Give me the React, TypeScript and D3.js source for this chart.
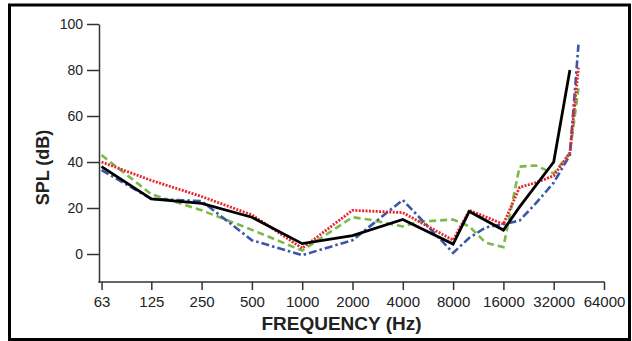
import React, { useEffect, useRef } from "react";
import * as d3 from "d3";

const tickFreqs = [63, 125, 250, 500, 1000, 2000, 4000, 8000, 16000, 32000, 64000];
const tickLabels = ["63", "125", "250", "500", "1000", "2000", "4000", "8000", "16000", "32000", "64000"];
const yTicks = [0, 20, 40, 60, 80, 100];

const greenFreq = [63, 125, 250, 500, 1000, 2000, 2500, 4000, 5000, 8000, 10000, 12500, 16000, 20000, 25000, 32000, 40000, 45000];
const greenSpl = [43, 26, 19, 10.5, 1.5, 16, 15, 12, 14, 15, 12, 5, 3, 38, 38.5, 35, 44, 72];

const blueFreq = [63, 125, 250, 500, 1000, 2000, 4000, 8000, 10000, 12500, 16000, 20000, 25000, 32000, 40000, 45000];
const blueSpl = [36.5, 24, 23, 6, -0.5, 6, 23.5, 0.5, 7, 11.5, 13, 14.5, 22, 31, 43, 91];

const redFreq = [63, 125, 250, 500, 1000, 2000, 4000, 8000, 10000, 16000, 20000, 25000, 32000, 40000, 45000];
const redSpl = [40, 32, 25, 17, 2.5, 19, 18, 6, 19, 13, 29, 31, 34, 44, 81];

const blackFreq = [63, 125, 250, 500, 1000, 2000, 4000, 8000, 10000, 16000, 20000, 32000, 40000];
const blackSpl = [38, 24, 22, 16, 4.5, 8, 15, 4.3, 18.5, 10.4, 20.5, 40, 80];

const W = 632;
const H = 341;
const FONT = "'Liberation Sans', Arial, Helvetica, sans-serif";

export default function App() {
  const ref = useRef<SVGSVGElement | null>(null);

  useEffect(() => {
    const svg = d3.select(ref.current);
    svg.selectAll("*").remove();

    const x = d3.scaleLog().domain([62.5, 64000]).range([101, 604]);
    const y = d3.scaleLinear().domain([-12.17, 100]).range([282, 24]);

    svg.append("rect").attr("x", 0).attr("y", 0).attr("width", W).attr("height", H).attr("fill", "#fff");

    // border
    svg.append("rect")
      .attr("x", 9.5).attr("y", 5).attr("width", 620).attr("height", 334.5)
      .attr("fill", "none").attr("stroke", "#000").attr("stroke-width", 3);

    // y axis
    const yAxis = d3.axisLeft(y).tickValues(yTicks).tickSize(12).tickPadding(4).tickSizeOuter(0);
    const gy = svg.append("g").attr("transform", "translate(99,0)").call(yAxis);
    gy.select(".domain").attr("stroke", "#333").attr("stroke-width", 1.5);
    gy.selectAll(".tick line").attr("stroke", "#333").attr("stroke-width", 1.5);
    gy.selectAll(".tick text").attr("fill", "#222").style("font-family", FONT).style("font-size", "14px");

    // x axis
    const xAxis = d3.axisBottom(x).tickValues(tickFreqs)
      .tickFormat((_d, i) => tickLabels[i]).tickSize(8).tickPadding(6).tickSizeOuter(0);
    const gx = svg.append("g").attr("transform", "translate(0,282)").call(xAxis);
    gx.select(".domain").remove();
    gx.append("line").attr("x1", 98.25).attr("x2", 604.75).attr("y1", 0).attr("y2", 0)
      .attr("stroke", "#333").attr("stroke-width", 1.5);
    gx.selectAll(".tick line").attr("stroke", "#333").attr("stroke-width", 1.5);
    gx.selectAll(".tick text").attr("fill", "#222").style("font-family", FONT).style("font-size", "15px");

    // titles
    svg.append("text")
      .attr("transform", "translate(49,167.5) rotate(-90)")
      .attr("text-anchor", "middle")
      .style("font-family", FONT).style("font-size", "18px").style("font-weight", "bold")
      .attr("fill", "#222")
      .text("SPL (dB)");
    svg.append("text")
      .attr("x", 341.5).attr("y", 330)
      .attr("text-anchor", "middle")
      .style("font-family", FONT).style("font-size", "19px").style("font-weight", "bold")
      .attr("fill", "#222")
      .text("FREQUENCY (Hz)");

    const line = d3.line<[number, number]>().x((d) => x(d[0])).y((d) => y(d[1]));

    const series = [
      { f: greenFreq, v: greenSpl, color: "#7cb84a", dash: "7,4", width: 2.6 },
      { f: blueFreq, v: blueSpl, color: "#3957a8", dash: "8,3,2.5,3", width: 2.6 },
      { f: redFreq, v: redSpl, color: "#e8262c", dash: "2,1.4", width: 2.8 },
      { f: blackFreq, v: blackSpl, color: "#000", dash: null as string | null, width: 2.8 },
    ];
    series.forEach((s) => {
      const pts = s.f.map((f, i) => [f, s.v[i]] as [number, number]);
      const p = svg.append("path")
        .attr("d", line(pts) || "")
        .attr("fill", "none")
        .attr("stroke", s.color)
        .attr("stroke-width", s.width)
        .attr("stroke-linejoin", "miter");
      if (s.dash) p.attr("stroke-dasharray", s.dash);
    });
  }, []);

  return (
    <svg
      ref={ref}
      width={W}
      height={H}
      style={{ position: "absolute", left: 0, top: 0, display: "block" }}
    />
  );
}
